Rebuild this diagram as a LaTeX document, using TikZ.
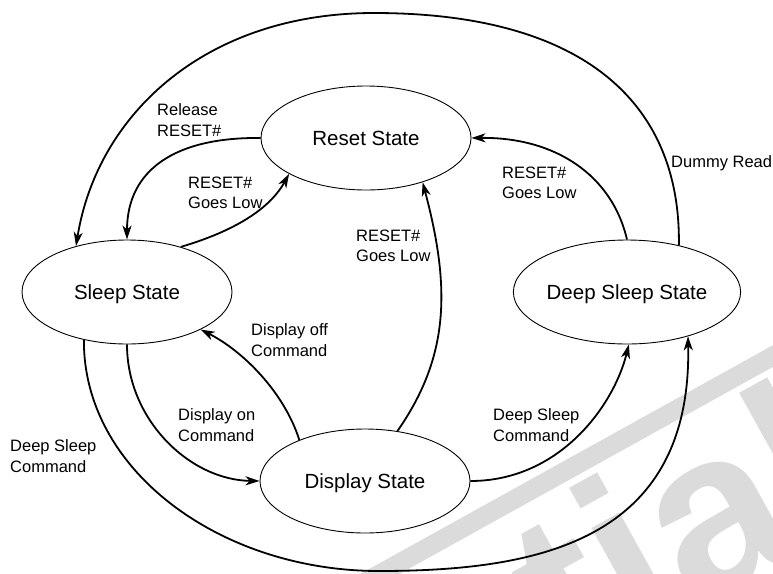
\documentclass[tikz,border=0pt]{standalone}
\usepackage{fontspec}
\setmainfont{Liberation Sans}
\usetikzlibrary{shapes.geometric,arrows.meta}
\begin{document}
\begin{tikzpicture}[x=1pt,y=-1pt,
  state/.style={ellipse,draw,line width=0.9pt,minimum width=210pt,minimum height=104pt,inner sep=0pt,
    font=\fontsize{20.5}{24}\selectfont,text height=18.5pt,text depth=3pt},
  lbl/.style={anchor=north west,align=left,inner sep=0pt,font=\fontsize{16.5}{20.5}\selectfont},
  conn/.style={line width=1.8pt,-{Stealth[length=14pt,width=9pt,inset=4pt]}},
  wmark/.style={black!14}
]
\useasboundingbox (0,0) rectangle (773,573);
\begin{scope}
  \clip (0,0) rectangle (773,573);
  \fill[wmark] (952.6,267.3) -- (943.4,250.7) -- (243.4,638.7) -- (252.6,655.3) -- cycle;
  \node[rotate=29,anchor=base east,inner sep=0pt,text=black!14,
        font=\fontsize{234}{234}\selectfont\bfseries] (wm) at (865,518) {tial};
\end{scope}

\node[state] (reset) at (366,138) {Reset State};
\node[state] (sleep) at (127,292) {Sleep State};
\node[state] (deep)  at (627,292) {Deep Sleep State};
\node[state] (disp)  at (365,481) {Display State};

\coordinate (top) at (374,13);
\coordinate (bot) at (379,571);

% Dummy Read
\draw[conn] (deep.42) .. controls (681,100) and (580,13) .. (top)
            .. controls (205,13) and (97,115) .. (sleep.138);
% Release RESET#
\draw[conn] (reset.west) .. controls (175,137) and (127,170) .. (sleep.north);
% RESET# Goes Low (left)
\draw[conn] (sleep.40) .. controls (228,233) and (268,212) .. (reset.205);
% RESET# Goes Low (middle)
\draw[conn] (disp.57) .. controls (449,357) and (451,289) .. (reset.-38);
% RESET# Goes Low (right)
\draw[conn] (deep.north) .. controls (612,175) and (555,137) .. (reset.east);
% Display off Command
\draw[conn] (disp.148) .. controls (284,392) and (243,351) .. (sleep.-27);
% Display on Command
\draw[conn] (sleep.south) .. controls (127,420) and (190,480) .. (disp.west);
% Deep Sleep Command (right)
\draw[conn] (disp.east) .. controls (560,481) and (614,405) .. (deep.-88);
% Deep Sleep Command (left, outer)
\draw[conn] (sleep.228) .. controls (83,470) and (220,571) .. (bot)
            .. controls (540,571) and (692,540) .. (deep.-36);

\node[lbl] (l1) at (157,103.5) {Release\\RESET\#};
\node[lbl] (l2) at (188,176.5) {RESET\#\\Goes Low};
\node[lbl] (l3) at (356,229.5) {RESET\#\\Goes Low};
\node[lbl] (l4) at (502,166.5) {RESET\#\\Goes Low};
\node[lbl] (l5) at (671,155.5) {Dummy Read};
\node[lbl] (l6) at (251,323.5) {Display off\\Command};
\node[lbl] (l7) at (178,408.5) {Display on\\Command};
\node[lbl] (l8) at (493,408.5) {Deep Sleep\\Command};
\node[lbl] (l9) at (10,439.5) {Deep Sleep\\Command};
\end{tikzpicture}
\end{document}
